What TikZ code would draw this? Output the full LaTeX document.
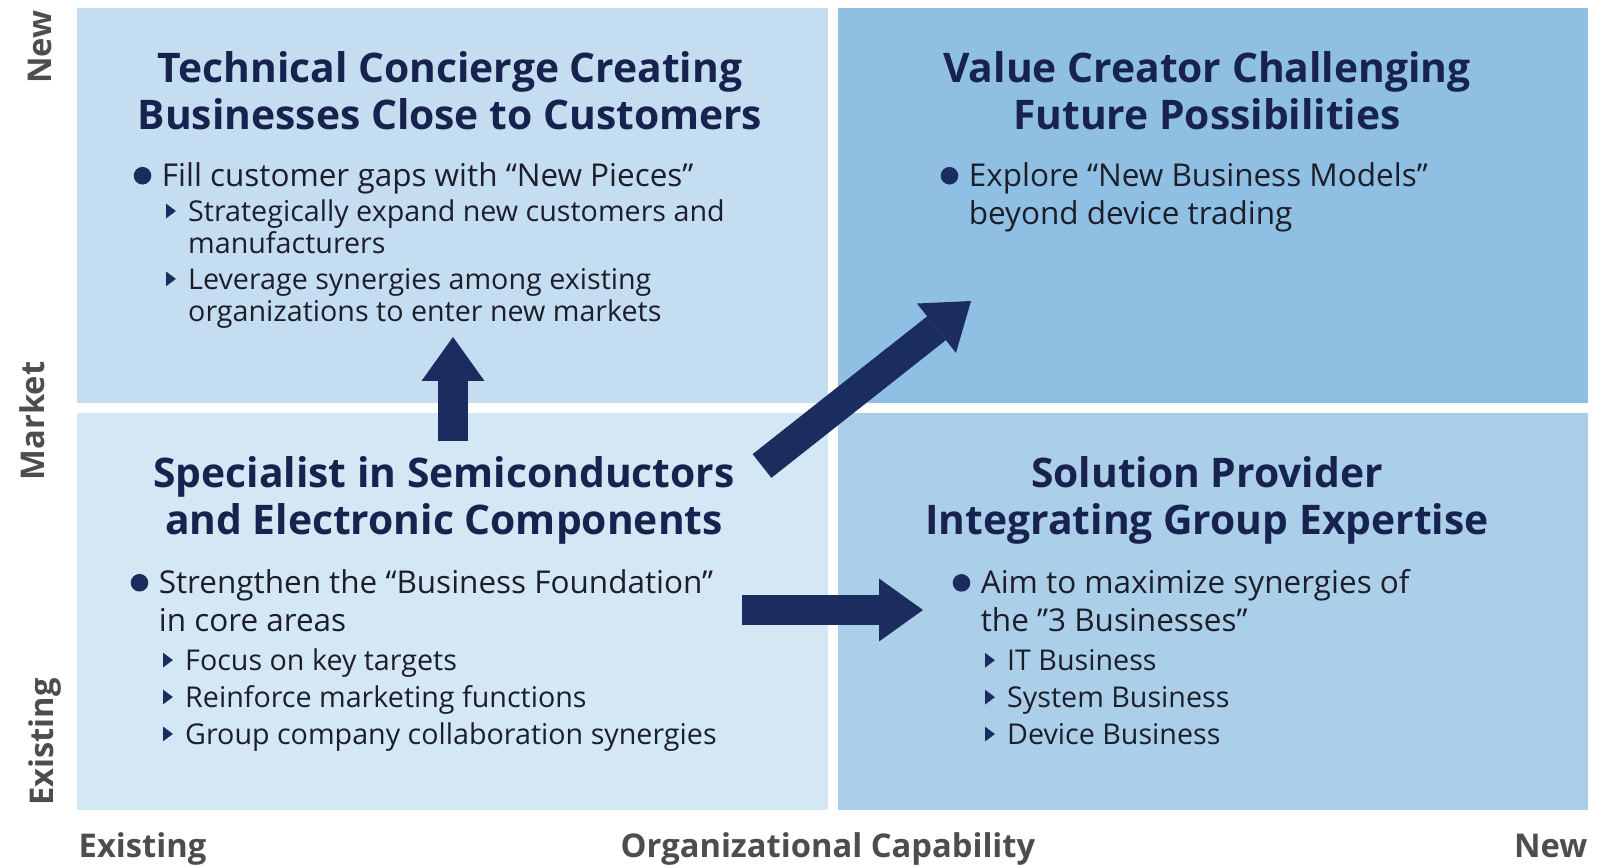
\documentclass[tikz,border=0pt]{standalone}
\usepackage{fontspec}
\setmainfont{Open Sans}
\usetikzlibrary{arrows.meta, positioning}

\definecolor{navy}{HTML}{1B2D5E}
\definecolor{titleblue}{HTML}{17224F}
\definecolor{inkblack}{HTML}{1C1E2A}
\definecolor{axisgray}{HTML}{4D4D4D}
\definecolor{qtl}{HTML}{C4DDF0}
\definecolor{qtr}{HTML}{8FC0E3}
\definecolor{qbl}{HTML}{D4E7F5}
\definecolor{qbr}{HTML}{ABCEE9}

% list markers
\newcommand{\dotbul}{\makebox[8pt][l]{\tikz[baseline=0pt]\fill[navy] (2.5pt,3.1pt) circle[radius=2.5pt];}}
\newcommand{\tribul}{\hspace*{9.2pt}\makebox[6.3pt][l]{\tikz[baseline=0pt]\fill[navy] (0pt,0.9pt) -- (2.8pt,3pt) -- (0pt,5.1pt) -- cycle;}}
\newcommand{\mainln}[1]{{\fontsize{8.95pt}{9.1pt}\selectfont #1}}
\newcommand{\maincont}{\hspace*{8pt}}
\newcommand{\subcont}{\hspace*{15.5pt}}

\begin{document}
\begin{tikzpicture}[
    x=0.01cm, y=-0.01cm,
    heading/.style={align=center, inner sep=0pt, text=titleblue, font=\fontsize{11.6pt}{13.4pt}\selectfont\bfseries},
    bodytext/.style={align=left, anchor=north west, inner sep=0pt, text=inkblack, font=\fontsize{8.15pt}{9.1pt}\selectfont},
    axislabel/.style={inner sep=0pt, text=axisgray, font=\fontsize{9.3pt}{11pt}\selectfont\bfseries},
    bigarrow/.style={draw=navy, line width=8.6pt, -{Triangle[length=12.5pt, width=17.9pt, line width=0pt]}}
]
    \useasboundingbox (0,0) rectangle (1602,867);

    % quadrants
    \fill[qtl] (77,8) rectangle (828,403);
    \fill[qtr] (838,8) rectangle (1588,403);
    \fill[qbl] (77,413) rectangle (828,810);
    \fill[qbr] (838,413) rectangle (1588,810);

    % headings
    \node[heading] (concierge) at (450,91) {Technical Concierge Creating\\Businesses Close to Customers};
    \node[heading] (creator) at (1207,91) {Value Creator Challenging\\Future Possibilities};
    \node[heading] (specialist) at (444,500) {Specialist in Semiconductors\\and Electronic Components};
    \node[heading] (provider) at (1207,500) {Solution Provider\\Integrating Group Expertise};

    % bullet lists
    \node[bodytext] (conciergeList) at (133,162) {\dotbul\mainln{Fill customer gaps with “New Pieces”}\\[0.85pt]
        \tribul Strategically expand new customers and\\
        \subcont manufacturers\\[1.1pt]
        \tribul Leverage synergies among existing\\
        \subcont organizations to enter new markets};
    \node[bodytext] (creatorList) at (940,162) {\dotbul\mainln{Explore “New Business Models”}\\[1.6pt]
        \maincont\mainln{beyond device trading}};
    \node[bodytext] (specialistList) at (130,569) {\dotbul\mainln{Strengthen the “Business Foundation”}\\[1.7pt]
        \maincont\mainln{in core areas}\\[2pt]
        \tribul Focus on key targets\\[1.4pt]
        \tribul Reinforce marketing functions\\[1.4pt]
        \tribul Group company collaboration synergies};
    \node[bodytext] (providerList) at (952,569) {\dotbul\mainln{Aim to maximize synergies of}\\[1.7pt]
        \maincont\mainln{the ”3 Businesses”}\\[2pt]
        \tribul IT Business\\[1.4pt]
        \tribul System Business\\[1.4pt]
        \tribul Device Business};

    % axes
    \node[axislabel, rotate=90] (marketNew) at (40,47) {New};
    \node[axislabel, rotate=90] (market) at (32,421) {Market};
    \node[axislabel, rotate=90] (marketOld) at (45,742) {Existing};
    \node[axislabel, anchor=base west] (capOld) at (78,857) {Existing};
    \node[axislabel, anchor=base] (capability) at (828,857) {Organizational Capability};
    \node[axislabel, anchor=base east] (capNew) at (1588,857) {New};

    % moves
    \coordinate (upTail) at (453,441);
    \coordinate (upTip) at (453,337);
    \coordinate (diagTail) at (762,466);
    \coordinate (diagTip) at (971,301);
    \coordinate (rightTail) at (742,610);
    \coordinate (rightTip) at (923,610);
    \draw[bigarrow] (upTail) -- (upTip);
    \draw[bigarrow] (diagTail) -- (diagTip);
    \draw[bigarrow] (rightTail) -- (rightTip);
\end{tikzpicture}
\end{document}
